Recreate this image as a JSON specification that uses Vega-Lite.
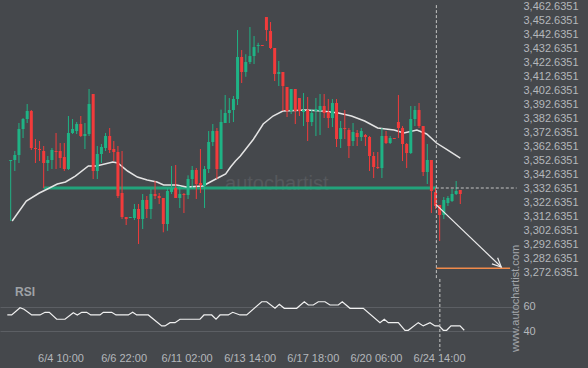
{
"$schema": "https://vega.github.io/schema/vega-lite/v6.json",
"background": "#45484c",
"padding": {"left": 0, "top": 0, "right": 10, "bottom": 6},
"spacing": 0,
"bounds": "flush",
"config": {"view": {"stroke": null}, "axis": {"labelFont": "Liberation Sans", "labelFontSize": 11, "labelColor": "#b4b7bb", "domain": false, "ticks": false, "grid": false, "labelFlush": false, "labelOverlap": false}},
"datasets": {
"candles": [
{"i":0,"o":3351.92,"h":3352.64,"l":3309.07,"c":3352.64},
{"i":1,"o":3352.64,"h":3359.07,"l":3344.78,"c":3356.21},
{"i":2,"o":3356.21,"h":3379.07,"l":3350.5,"c":3374.78},
{"i":3,"o":3374.78,"h":3382.64,"l":3368.35,"c":3381.92},
{"i":4,"o":3381.92,"h":3392.64,"l":3379.07,"c":3387.64},
{"i":5,"o":3387.64,"h":3388.35,"l":3359.78,"c":3361.21},
{"i":6,"o":3361.21,"h":3367.64,"l":3350.5,"c":3360.5},
{"i":7,"o":3360.5,"h":3366.21,"l":3351.92,"c":3359.78},
{"i":8,"o":3359.07,"h":3362.64,"l":3332.64,"c":3350.5},
{"i":9,"o":3350.5,"h":3355.5,"l":3344.78,"c":3352.64},
{"i":10,"o":3352.64,"h":3361.21,"l":3346.21,"c":3359.78},
{"i":11,"o":3359.07,"h":3371.92,"l":3346.21,"c":3358.35},
{"i":12,"o":3359.07,"h":3364.78,"l":3346.92,"c":3354.07},
{"i":13,"o":3354.78,"h":3364.78,"l":3344.78,"c":3346.21},
{"i":14,"o":3346.21,"h":3384.07,"l":3345.5,"c":3371.92},
{"i":15,"o":3371.92,"h":3381.92,"l":3371.21,"c":3374.78},
{"i":16,"o":3373.35,"h":3379.78,"l":3371.21,"c":3378.35},
{"i":17,"o":3378.35,"h":3384.07,"l":3369.07,"c":3369.78},
{"i":18,"o":3369.78,"h":3379.07,"l":3360.5,"c":3371.21},
{"i":19,"o":3371.21,"h":3403.35,"l":3369.78,"c":3392.64},
{"i":20,"o":3399.78,"h":3399.78,"l":3339.07,"c":3344.78},
{"i":21,"o":3344.78,"h":3362.64,"l":3339.07,"c":3356.92},
{"i":22,"o":3356.92,"h":3364.07,"l":3350.5,"c":3361.92},
{"i":23,"o":3361.21,"h":3371.92,"l":3359.07,"c":3369.78},
{"i":24,"o":3369.78,"h":3375.5,"l":3357.64,"c":3359.78},
{"i":25,"o":3360.5,"h":3366.21,"l":3351.92,"c":3358.35},
{"i":26,"o":3358.35,"h":3362.64,"l":3325.5,"c":3326.92},
{"i":27,"o":3329.07,"h":3359.07,"l":3310.5,"c":3311.92},
{"i":28,"o":3311.92,"h":3311.92,"l":3306.21,"c":3310.5},
{"i":29,"o":3311.21,"h":3311.93,"l":3311.21,"c":3311.93},
{"i":30,"o":3311.21,"h":3321.21,"l":3309.78,"c":3317.64},
{"i":31,"o":3317.64,"h":3321.21,"l":3292.64,"c":3310.5},
{"i":32,"o":3310.5,"h":3328.35,"l":3303.35,"c":3324.07},
{"i":33,"o":3324.07,"h":3326.92,"l":3311.21,"c":3317.64},
{"i":34,"o":3317.64,"h":3331.92,"l":3310.5,"c":3328.35},
{"i":35,"o":3328.35,"h":3337.64,"l":3324.78,"c":3326.92},
{"i":36,"o":3326.92,"h":3329.07,"l":3321.21,"c":3325.5},
{"i":37,"o":3325.5,"h":3325.5,"l":3301.0,"c":3306.92},
{"i":38,"o":3306.92,"h":3332.64,"l":3302.07,"c":3330.5},
{"i":39,"o":3329.78,"h":3348.35,"l":3328.35,"c":3332.64},
{"i":40,"o":3332.64,"h":3349.07,"l":3325.5,"c":3325.5},
{"i":41,"o":3325.5,"h":3334.07,"l":3318.35,"c":3328.35},
{"i":42,"o":3328.35,"h":3329.07,"l":3314.78,"c":3327.64},
{"i":43,"o":3327.64,"h":3341.7,"l":3324.78,"c":3339.07},
{"i":44,"o":3339.07,"h":3348.35,"l":3331.92,"c":3345.5},
{"i":45,"o":3345.5,"h":3346.92,"l":3324.78,"c":3335.5},
{"i":46,"o":3336.21,"h":3360.5,"l":3329.07,"c":3334.78},
{"i":47,"o":3334.07,"h":3348.35,"l":3318.35,"c":3346.21},
{"i":48,"o":3346.21,"h":3373.35,"l":3343.35,"c":3365.5},
{"i":49,"o":3365.5,"h":3378.35,"l":3362.64,"c":3373.35},
{"i":50,"o":3373.35,"h":3375.5,"l":3339.07,"c":3346.21},
{"i":51,"o":3346.21,"h":3388.64,"l":3346.21,"c":3379.78},
{"i":52,"o":3379.07,"h":3399.07,"l":3379.07,"c":3386.21},
{"i":53,"o":3386.21,"h":3396.92,"l":3379.07,"c":3388.35},
{"i":54,"o":3388.35,"h":3398.35,"l":3379.78,"c":3396.21},
{"i":55,"o":3396.21,"h":3445.5,"l":3391.92,"c":3426.21},
{"i":56,"o":3426.21,"h":3431.21,"l":3407.64,"c":3415.5},
{"i":57,"o":3415.5,"h":3428.2,"l":3412.1,"c":3422.64},
{"i":58,"o":3422.64,"h":3447.64,"l":3421.21,"c":3426.92},
{"i":59,"o":3426.92,"h":3441.21,"l":3421.21,"c":3433.35},
{"i":60,"o":3434.07,"h":3436.4,"l":3429.3,"c":3434.78},
{"i":61,"o":3434.78,"h":3434.78,"l":3434.07,"c":3434.07},
{"i":62,"o":3454.78,"h":3454.78,"l":3437.64,"c":3445.5},
{"i":63,"o":3444.78,"h":3451.21,"l":3431.92,"c":3432.64},
{"i":64,"o":3432.64,"h":3432.64,"l":3409.07,"c":3414.07},
{"i":65,"o":3414.07,"h":3423.35,"l":3405.5,"c":3415.5},
{"i":66,"o":3415.5,"h":3415.5,"l":3387.64,"c":3405.5},
{"i":67,"o":3404.78,"h":3404.78,"l":3383.35,"c":3387.64},
{"i":68,"o":3387.64,"h":3403.35,"l":3385.5,"c":3403.35},
{"i":69,"o":3403.35,"h":3403.35,"l":3378.35,"c":3387.64},
{"i":70,"o":3396.92,"h":3396.92,"l":3384.07,"c":3387.64},
{"i":71,"o":3386.92,"h":3400.5,"l":3376.92,"c":3388.35},
{"i":72,"o":3388.35,"h":3397.64,"l":3366.21,"c":3379.78},
{"i":73,"o":3379.78,"h":3389.07,"l":3376.92,"c":3386.21},
{"i":74,"o":3387.64,"h":3396.92,"l":3369.78,"c":3389.07},
{"i":75,"o":3387.64,"h":3399.78,"l":3370.5,"c":3391.21},
{"i":76,"o":3391.21,"h":3399.78,"l":3382.64,"c":3386.21},
{"i":77,"o":3386.92,"h":3396.21,"l":3375.5,"c":3382.64},
{"i":78,"o":3382.64,"h":3396.21,"l":3376.2,"c":3393.35},
{"i":79,"o":3393.35,"h":3396.21,"l":3361.92,"c":3367.64},
{"i":80,"o":3367.64,"h":3380.5,"l":3361.21,"c":3375.5},
{"i":81,"o":3375.5,"h":3388.35,"l":3367.64,"c":3374.78},
{"i":82,"o":3374.07,"h":3375.5,"l":3354.07,"c":3362.64},
{"i":83,"o":3366.21,"h":3379.07,"l":3362.64,"c":3372.64},
{"i":84,"o":3371.92,"h":3374.07,"l":3362.64,"c":3369.07},
{"i":85,"o":3369.07,"h":3375.5,"l":3366.21,"c":3373.35},
{"i":86,"o":3370.5,"h":3371.21,"l":3362.64,"c":3369.07},
{"i":87,"o":3369.07,"h":3369.78,"l":3344.78,"c":3355.5},
{"i":88,"o":3355.5,"h":3358.35,"l":3339.78,"c":3347.64},
{"i":89,"o":3347.64,"h":3358.35,"l":3346.21,"c":3346.92},
{"i":90,"o":3346.92,"h":3375.5,"l":3339.78,"c":3369.78},
{"i":91,"o":3369.78,"h":3373.35,"l":3364.07,"c":3364.78},
{"i":92,"o":3364.78,"h":3369.78,"l":3364.07,"c":3368.35},
{"i":93,"o":3368.35,"h":3368.35,"l":3367.64,"c":3367.64},
{"i":94,"o":3379.78,"h":3399.07,"l":3368.35,"c":3375.5},
{"i":95,"o":3375.5,"h":3376.92,"l":3351.92,"c":3364.07},
{"i":96,"o":3364.07,"h":3364.78,"l":3346.92,"c":3357.64},
{"i":97,"o":3357.64,"h":3391.21,"l":3356.92,"c":3381.92},
{"i":98,"o":3381.92,"h":3391.21,"l":3376.92,"c":3388.35},
{"i":99,"o":3388.35,"h":3393.35,"l":3375.5,"c":3376.92},
{"i":100,"o":3376.92,"h":3376.92,"l":3341.21,"c":3344.07},
{"i":101,"o":3344.07,"h":3364.07,"l":3335.5,"c":3352.64},
{"i":102,"o":3352.64,"h":3352.64,"l":3314.78,"c":3330.5},
{"i":103,"o":3329.78,"h":3332.64,"l":3317.64,"c":3319.78},
{"i":104,"o":3320.5,"h":3320.5,"l":3294.78,"c":3313.35},
{"i":105,"o":3313.35,"h":3326.2,"l":3310.5,"c":3324.07},
{"i":106,"o":3321.9,"h":3326.9,"l":3319.8,"c":3325.5},
{"i":107,"o":3323.35,"h":3331.92,"l":3322.64,"c":3328.35},
{"i":108,"o":3328.35,"h":3337.64,"l":3327.64,"c":3330.5},
{"i":109,"o":3331.21,"h":3331.21,"l":3321.21,"c":3328.35}
],
"ma": [{"i":0.36,"p":3309.06},{"i":3.78,"p":3323.35},{"i":6.94,"p":3329.06},{"i":8.92,"p":3331.92},{"i":11.29,"p":3335.49},{"i":13.29,"p":3336.92},{"i":15.67,"p":3341.2},{"i":18.83,"p":3348.35},{"i":20.8,"p":3348.35},{"i":24.77,"p":3351.2},{"i":25.96,"p":3350.49},{"i":28.34,"p":3344.78},{"i":30.72,"p":3340.49},{"i":33.1,"p":3338.35},{"i":35.47,"p":3336.92},{"i":37.07,"p":3334.78},{"i":40.23,"p":3334.78},{"i":42.61,"p":3333.35},{"i":46.58,"p":3334.06},{"i":49.74,"p":3339.06},{"i":52.12,"p":3342.63},{"i":53.3,"p":3347.6},{"i":54.5,"p":3351.92},{"i":55.68,"p":3355.49},{"i":58.85,"p":3367.49},{"i":61.22,"p":3378.35},{"i":63.6,"p":3384.06},{"i":65.98,"p":3387.64},{"i":71.54,"p":3388.35},{"i":75.49,"p":3387.64},{"i":79.46,"p":3386.21},{"i":82.62,"p":3384.06},{"i":85.81,"p":3380.49},{"i":88.97,"p":3375.49},{"i":92.94,"p":3374.06},{"i":95.32,"p":3371.92},{"i":98.48,"p":3374.06},{"i":100.86,"p":3371.21},{"i":103.24,"p":3364.78},{"i":105.6,"p":3360.49},{"i":109,"p":3354.06}],
"rsi": [{"i":0.36,"r":53.4},{"i":1.4,"r":53.4},{"i":3.38,"r":59.4},{"i":4.33,"r":58.1},{"i":6.16,"r":53.4},{"i":8.13,"r":53.4},{"i":9.32,"r":55.6},{"i":10.34,"r":55.6},{"i":12.1,"r":49.9},{"i":14.07,"r":49.9},{"i":16.05,"r":55.3},{"i":17,"r":53.4},{"i":18.05,"r":55.6},{"i":19.23,"r":55.6},{"i":20.19,"r":53.4},{"i":22.4,"r":53.4},{"i":23.18,"r":55.6},{"i":25.18,"r":55.6},{"i":26.2,"r":53.4},{"i":29.13,"r":53.4},{"i":30.17,"r":55.6},{"i":31.12,"r":53.4},{"i":33.88,"r":53.4},{"i":37.07,"r":44.4},{"i":37.85,"r":44.4},{"i":39.04,"r":47.1},{"i":40.23,"r":47.1},{"i":41.42,"r":49.9},{"i":46.17,"r":49.9},{"i":47.12,"r":53.4},{"i":48.95,"r":53.4},{"i":49.98,"r":49.9},{"i":50.93,"r":53.4},{"i":52.9,"r":53.4},{"i":53.95,"r":55.6},{"i":55.68,"r":53.4},{"i":57.27,"r":53.4},{"i":60.84,"r":64.3},{"i":62.03,"r":64.3},{"i":64,"r":58.9},{"i":65.03,"r":62.2},{"i":66.21,"r":58.9},{"i":69.16,"r":58.9},{"i":70.97,"r":64.3},{"i":71.92,"r":61.6},{"i":73.11,"r":61.6},{"i":74.3,"r":64.3},{"i":75.89,"r":64.3},{"i":77.08,"r":61.6},{"i":79.05,"r":61.6},{"i":80,"r":64.3},{"i":81.84,"r":58.9},{"i":85,"r":58.9},{"i":88.97,"r":47.1},{"i":89.99,"r":49.9},{"i":90.94,"r":47.1},{"i":93.32,"r":47.1},{"i":94.91,"r":40.8},{"i":95.69,"r":40.8},{"i":98.07,"r":47.1},{"i":99.26,"r":44.4},{"i":100.86,"r":47.1},{"i":102.05,"r":44.4},{"i":103,"r":44.4},{"i":104.02,"r":40.8},{"i":104.82,"r":40.8},{"i":105.85,"r":44.4},{"i":107.99,"r":44.4},{"i":109,"r":40.8}],
"arrow": [{"seg":"shaft","k":1,"i":103.07,"p":3320.99},{"seg":"shaft","k":2,"i":118.93,"p":3276.21},{"seg":"head","k":1,"i":116.67,"p":3278.43},{"seg":"head","k":2,"i":118.93,"p":3276.21},{"seg":"head","k":3,"i":118.05,"p":3282.85}]
},
"vconcat": [
{
"width": 518, "height": 278,
"encoding": {
 "x": {"field": "i", "type": "quantitative", "scale": {"domain": [-1.379, 121.78], "nice": false, "zero": false}, "axis": null},
 "y": {"field": "p", "type": "quantitative", "scale": {"domain": [3267.6351, 3466.2351], "nice": false, "zero": false},
  "axis": {"orient": "right", "values": [3272.6351,3282.6351,3292.6351,3302.6351,3312.6351,3322.6351,3332.6351,3342.6351,3352.6351,3362.6351,3372.6351,3382.6351,3392.6351,3402.6351,3412.6351,3422.6351,3432.6351,3442.6351,3452.6351,3462.6351], "format": ",.4f", "labelPadding": 5, "title": null}}
},
"layer": [
{"data": {"values": [{"i": 64.5, "p": 3335.5, "t": "autochartist"}]},
 "mark": {"type": "text", "font": "Liberation Sans", "fontSize": 20, "color": "#55585c", "align": "center", "baseline": "middle"},
 "encoding": {"text": {"field": "t"}}},
{"data": {"values": [{"i": 7.96, "i2": 103.07, "p": 3332.7}]},
 "mark": {"type": "rule", "color": "#22a37b", "strokeWidth": 3},
 "encoding": {"x2": {"field": "i2"}}},
{"data": {"name": "ma"},
 "mark": {"type": "line", "color": "#e4e4e4", "strokeWidth": 1.5}},
{"data": {"name": "candles"},
 "mark": {"type": "rule", "strokeWidth": 1},
 "encoding": {
  "y": {"field": "h", "type": "quantitative", "scale": {"domain": [3267.6351, 3466.2351], "nice": false, "zero": false},
   "axis": {"orient": "right", "values": [3272.6351,3282.6351,3292.6351,3302.6351,3312.6351,3322.6351,3332.6351,3342.6351,3352.6351,3362.6351,3372.6351,3382.6351,3392.6351,3402.6351,3412.6351,3422.6351,3432.6351,3442.6351,3452.6351,3462.6351], "format": ",.4f", "labelPadding": 5, "title": null}},
  "y2": {"field": "l"},
  "color": {"condition": {"test": "datum.c >= datum.o", "value": "#1fb385"}, "value": "#f23b3b"}}},
{"data": {"name": "candles"},
 "mark": {"type": "bar", "size": 3, "orient": "vertical"},
 "encoding": {
  "y": {"field": "o", "type": "quantitative", "scale": {"domain": [3267.6351, 3466.2351], "nice": false, "zero": false},
   "axis": {"orient": "right", "values": [3272.6351,3282.6351,3292.6351,3302.6351,3312.6351,3322.6351,3332.6351,3342.6351,3352.6351,3362.6351,3372.6351,3382.6351,3392.6351,3402.6351,3412.6351,3422.6351,3432.6351,3442.6351,3452.6351,3462.6351], "format": ",.4f", "labelPadding": 5, "title": null}},
  "y2": {"field": "c"},
  "color": {"condition": {"test": "datum.c >= datum.o", "value": "#1fb385"}, "value": "#f23b3b"}}},
{"data": {"values": [{"i": 103.07, "i2": 122.66, "p": 3332.6351}]},
 "mark": {"type": "rule", "color": "#c4c4c4", "strokeWidth": 1, "strokeDash": [3, 2]},
 "encoding": {"x2": {"field": "i2"}}},
{"data": {"values": [{"i": 103.2, "p": 3463.3, "p2": 3267.6351}]},
 "mark": {"type": "rule", "color": "#c4c4c4", "strokeWidth": 1, "strokeDash": [3, 2]},
 "encoding": {"y2": {"field": "p2"}}},
{"data": {"values": [{"i": 103.2, "i2": 121.07, "p": 3275.28}]},
 "mark": {"type": "rule", "color": "#f08a4b", "strokeWidth": 1.5},
 "encoding": {"x2": {"field": "i2"}}},
{"data": {"name": "arrow"},
 "mark": {"type": "line", "color": "#ececec", "strokeWidth": 1.2},
 "encoding": {"detail": {"field": "seg"}, "order": {"field": "k"}}}
]
},
{
"width": 518, "height": 70,
"encoding": {
 "x": {"field": "i", "type": "quantitative", "scale": {"domain": [-1.379, 121.78], "nice": false, "zero": false},
  "axis": {"values": [13, 28, 43, 58, 73, 88, 103], "labelPadding": 3, "title": null, "labelExpr": "datum.value == 13 ? '6/4 10:00' : datum.value == 28 ? '6/6 22:00' : datum.value == 43 ? '6/11 02:00' : datum.value == 58 ? '6/13 14:00' : datum.value == 73 ? '6/17 18:00' : datum.value == 88 ? '6/20 06:00' : '6/24 14:00'"}},
 "y": {"field": "r", "type": "quantitative", "scale": {"domain": [25.4, 83], "nice": false, "zero": false},
  "axis": {"orient": "right", "values": [40, 60], "grid": true, "gridColor": "#5c5f64", "gridWidth": 1, "labelPadding": 5, "title": null}}
},
"layer": [
{"data": {"name": "rsi"},
 "mark": {"type": "line", "color": "#f0f0f0", "strokeWidth": 1.2}},
{"data": {"values": [{"i": 103.2, "r": 83, "r2": 23.8}]},
 "mark": {"type": "rule", "color": "#c4c4c4", "strokeWidth": 1, "strokeDash": [3, 2]},
 "encoding": {"y2": {"field": "r2"}}},
{"data": {"values": [{"i": 2.19, "r": 72.3, "t": "RSI"}]},
 "mark": {"type": "text", "font": "Liberation Sans", "fontSize": 12, "fontWeight": "bold", "color": "#9fa2a7", "align": "left", "baseline": "middle"},
 "encoding": {"text": {"field": "t"}}},
{"data": {"values": [{"i": 121.2, "r": 67, "t": "www.autochartist.com"}]},
 "mark": {"type": "text", "font": "Liberation Sans", "fontSize": 11, "color": "#a3a6ab", "align": "center", "baseline": "middle", "angle": 270},
 "encoding": {"text": {"field": "t"}}}
]
}
]
}
